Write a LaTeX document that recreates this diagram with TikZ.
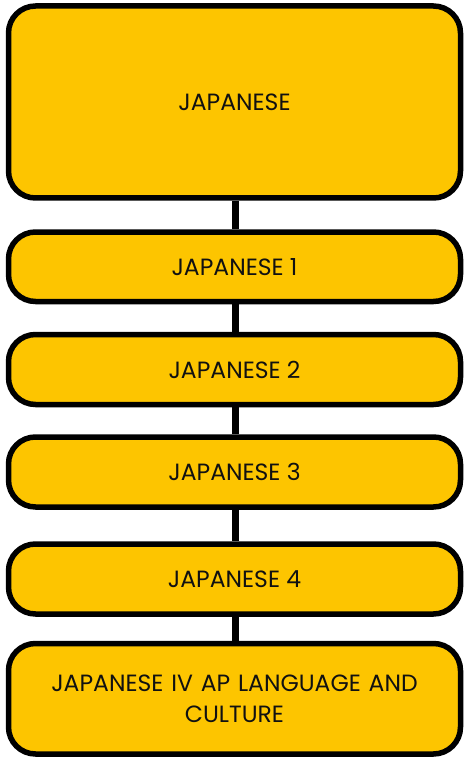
\documentclass[tikz,border=0pt]{standalone}
\usepackage{fontspec}
\setmainfont{Poppins}
\definecolor{boxfill}{HTML}{FDC500}
\definecolor{txt}{HTML}{111111}
\begin{document}
\begin{tikzpicture}[x=1pt,y=-1pt,
  course/.style={draw=black, line width=5.5pt, fill=boxfill, rounded corners=27pt,
    minimum width=452pt, inner sep=0pt, align=center, text=txt,
    font=\fontsize{23.5}{31}\selectfont},
  link/.style={draw=black, line width=7.5pt}]
\useasboundingbox (0,0) rectangle (465,759);
\node[course, minimum height=192pt] (b0) at (234.5,102) {JAPANESE};
\node[course, minimum height=69.5pt] (b1) at (234.5,266.75) {JAPANESE 1};
\node[course, minimum height=70pt] (b2) at (234.5,369.5) {JAPANESE 2};
\node[course, minimum height=70pt] (b3) at (234.5,472) {JAPANESE 3};
\node[course, minimum height=70pt] (b4) at (234.5,579) {JAPANESE 4};
\node[course, minimum height=110.5pt, text width=420pt] (b5) at (234.5,698.75) {JAPANESE IV AP LANGUAGE AND\\CULTURE};
\draw[link] ([xshift=1pt]b0.south) -- ([xshift=1pt]b1.north);
\draw[link] ([xshift=1pt]b1.south) -- ([xshift=1pt]b2.north);
\draw[link] ([xshift=1pt]b2.south) -- ([xshift=1pt]b3.north);
\draw[link] ([xshift=1pt]b3.south) -- ([xshift=1pt]b4.north);
\draw[link] ([xshift=1pt]b4.south) -- ([xshift=1pt]b5.north);
\end{tikzpicture}
\end{document}
